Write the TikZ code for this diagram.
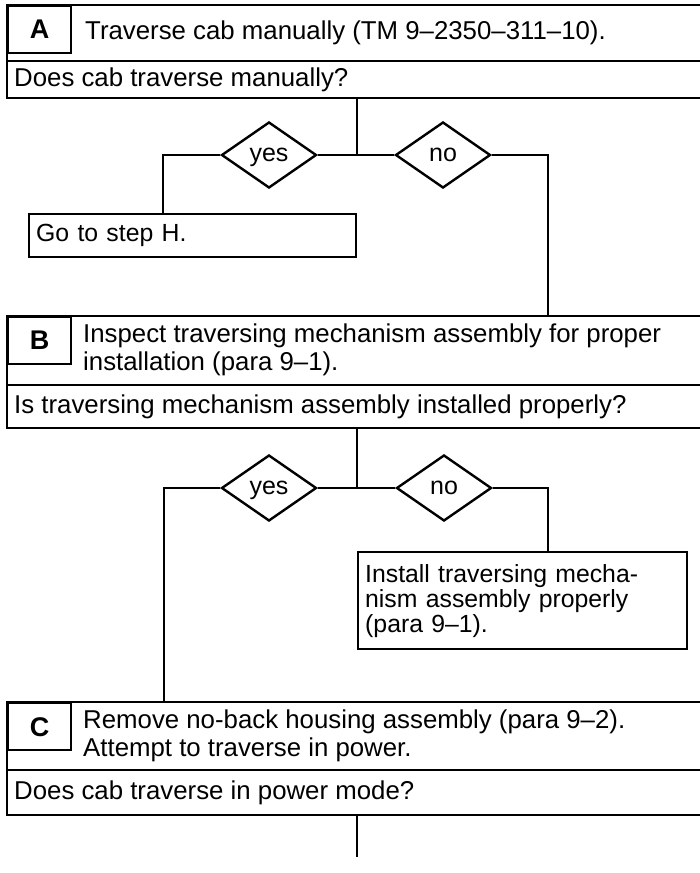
\documentclass[tikz,border=0pt]{standalone}
\usepackage{fontspec}
\setmainfont{Liberation Sans}
\usetikzlibrary{shapes.geometric}
\begin{document}
\begin{tikzpicture}[x=1pt,y=-1pt,line width=2.4pt,
  txt/.style={anchor=west,inner sep=0pt,font=\fontsize{25.8}{28}\selectfont,align=left},
  lbl/.style={draw,anchor=north west,inner sep=0pt,minimum width=63pt,minimum height=47pt,font=\fontsize{27}{27}\selectfont\bfseries},
  dia/.style={diamond,draw,inner sep=0pt,minimum width=95pt,minimum height=66pt,text height=12.5pt,text depth=0pt,font=\fontsize{25}{28}\selectfont},
  stepbox/.style={draw,anchor=north west,inner xsep=7pt,inner ysep=0pt,align=left,font=\fontsize{24.8}{25}\selectfont}
]
\useasboundingbox (0,0) rectangle (699,873);

% ---------- Step A ----------
\draw (705,5) -- (7,5) -- (7,98) -- (705,98);
\draw (7,61) -- (705,61);
\node[lbl] (Al) at (7,5) {A};
\node[txt] (At) at (84,33) {Traverse cab manually (TM 9–2350–311–10).};
\node[txt] (Aq) at (13,80) {Does cab traverse manually?};
\coordinate (Ab) at (357,98);
\coordinate (Aj) at (357,155);
\node[dia] (Ay) at (269,155) {yes};
\node[dia] (An) at (443,155) {no};
\node[stepbox,text width=313pt,minimum height=43pt] (goH) at (28,213) {Go to step H.};
\coordinate (goHin) at (163,213);
\coordinate (Bin) at (548,316);
\draw (Ab) -- (Aj);
\draw (Ay.east) -- (An.west);
\draw (Ay.west) -| (goHin);
\draw (An.east) -| (Bin);

% ---------- Step B ----------
\draw (705,316) -- (7,316) -- (7,428) -- (705,428);
\draw (7,385) -- (705,385);
\node[lbl] (Bl) at (7,316) {B};
\node[txt] (Bt) at (82,350) {Inspect traversing mechanism assembly for proper\\installation (para 9–1).};
\node[txt] (Bq) at (13,407) {Is traversing mechanism assembly installed properly?};
\coordinate (Bb) at (357,428);
\coordinate (Bj) at (357,488);
\node[dia] (By) at (269,488) {yes};
\node[dia] (Bn) at (444,488) {no};
\node[stepbox,text width=315pt,minimum height=97pt] (inst) at (357,551) {Install traversing mecha-\\nism assembly properly\\(para 9–1).};
\coordinate (instin) at (548,551);
\coordinate (Cin) at (164,702);
\draw (Bb) -- (Bj);
\draw (By.east) -- (Bn.west);
\draw (Bn.east) -| (instin);
\draw (By.west) -| (Cin);

% ---------- Step C ----------
\draw (705,702) -- (7,702) -- (7,815) -- (705,815);
\draw (7,770) -- (705,770);
\node[lbl] (Cl) at (7,702) {C};
\node[txt] (Ct) at (82,736) {Remove no-back housing assembly (para 9–2).\\Attempt to traverse in power.};
\node[txt] (Cq) at (13,793) {Does cab traverse in power mode?};
\coordinate (Cb) at (357,815);
\coordinate (Cend) at (357,857);
\draw (Cb) -- (Cend);
\end{tikzpicture}
\end{document}
